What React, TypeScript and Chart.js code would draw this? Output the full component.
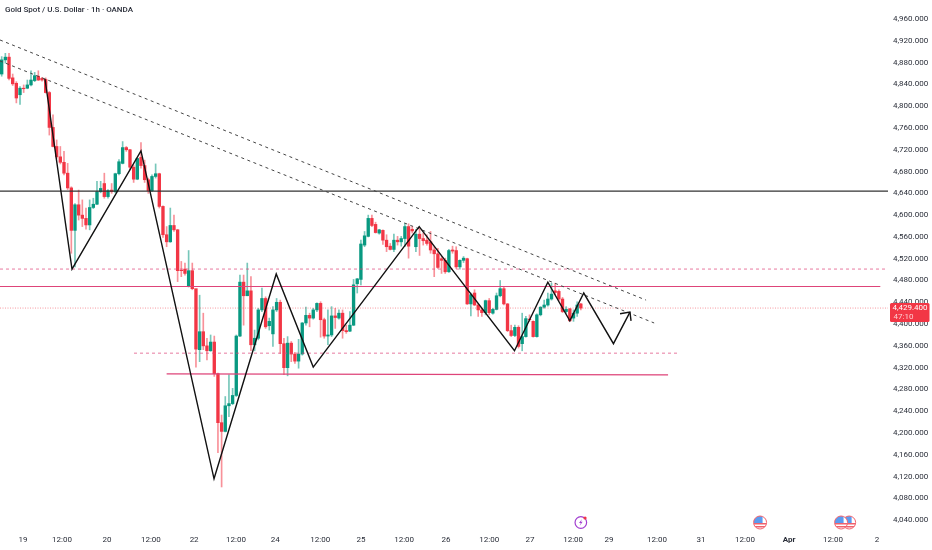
import React, { useEffect, useRef } from "react";
import { Chart, registerables } from "chart.js";

Chart.register(...registerables);

const opens = [
  4859, 4885, 4890, 4852, 4842, 4821, 4833, 4833, 4839, 4847,
  4855, 4851, 4849, 4825, 4761, 4726, 4707, 4697, 4677, 4650,
  4572, 4619, 4600, 4594, 4582, 4614, 4620, 4643, 4658, 4634,
  4646, 4643, 4676, 4695, 4724, 4720, 4688, 4666, 4706, 4691,
  4665, 4645, 4671, 4676, 4616, 4564, 4551, 4581, 4573, 4499,
  4501, 4469, 4498, 4465, 4353, 4386, 4360, 4351, 4367, 4309,
  4219, 4203, 4250, 4254, 4269, 4378, 4477, 4452, 4461, 4362,
  4374, 4426, 4447, 4397, 4382, 4426, 4440, 4364, 4320, 4365,
  4345, 4332, 4345, 4402, 4416, 4411, 4426, 4438, 4408, 4378,
  4380, 4415, 4411, 4420, 4388, 4387, 4398, 4474, 4482, 4545,
  4561, 4594, 4583, 4567, 4572, 4554, 4543, 4537, 4554, 4551,
  4557, 4579, 4574, 4542, 4565, 4557, 4554, 4551, 4536, 4529,
  4520, 4517, 4496, 4536, 4535, 4505, 4517, 4520, 4437, 4457,
  4435, 4426, 4421, 4443, 4420, 4427, 4452, 4465, 4437, 4388,
  4379, 4394, 4364, 4377, 4409, 4405, 4377, 4417, 4431, 4435,
  4446, 4461, 4460, 4446, 4423, 4428, 4411, 4420, 4437,
];
const closes = [
  4885, 4890, 4851, 4841, 4815, 4833, 4832, 4839, 4848, 4856,
  4848, 4848, 4825, 4761, 4726, 4707, 4697, 4677, 4650, 4572,
  4619, 4600, 4594, 4582, 4614, 4620, 4643, 4649, 4634, 4645,
  4643, 4676, 4698, 4724, 4720, 4688, 4666, 4704, 4691, 4665,
  4645, 4671, 4676, 4616, 4564, 4551, 4581, 4573, 4498, 4498,
  4493, 4498, 4465, 4354, 4386, 4360, 4351, 4367, 4309, 4219,
  4203, 4250, 4254, 4269, 4378, 4477, 4452, 4461, 4362, 4374,
  4426, 4447, 4395, 4405, 4426, 4440, 4364, 4320, 4365, 4345,
  4332, 4345, 4402, 4416, 4411, 4426, 4438, 4408, 4378, 4380,
  4415, 4412, 4420, 4388, 4386, 4398, 4472, 4483, 4547, 4562,
  4594, 4581, 4568, 4573, 4554, 4542, 4537, 4554, 4551, 4557,
  4579, 4543, 4571, 4565, 4557, 4553, 4548, 4536, 4529, 4504,
  4517, 4496, 4535, 4534, 4505, 4517, 4521, 4437, 4454, 4435,
  4426, 4421, 4443, 4421, 4427, 4452, 4465, 4437, 4388, 4379,
  4394, 4359, 4377, 4410, 4408, 4377, 4417, 4431, 4435, 4446,
  4455, 4458, 4446, 4423, 4427, 4406, 4420, 4435, 4429.4,
];
const highs = [
  4891, 4897, 4897, 4859, 4845, 4836, 4839, 4848, 4865, 4862,
  4865, 4853, 4852, 4827, 4784, 4738, 4726, 4717, 4695, 4652,
  4621, 4646, 4628, 4613, 4628, 4631, 4662, 4662, 4677, 4647,
  4658, 4677, 4702, 4735, 4726, 4721, 4692, 4705, 4733, 4701,
  4668, 4674, 4694, 4677, 4617, 4579, 4613, 4600, 4574, 4515,
  4512, 4535, 4512, 4464, 4453, 4420, 4374, 4380, 4378, 4310,
  4233, 4267, 4307, 4282, 4380, 4490, 4490, 4512, 4487, 4389,
  4429, 4466, 4450, 4411, 4432, 4447, 4444, 4374, 4377, 4368,
  4348, 4372, 4403, 4431, 4420, 4429, 4439, 4441, 4411, 4426,
  4432, 4429, 4426, 4426, 4398, 4423, 4482, 4484, 4554, 4570,
  4600, 4600, 4587, 4574, 4573, 4564, 4548, 4565, 4561, 4561,
  4585, 4584, 4579, 4574, 4576, 4567, 4564, 4570, 4542, 4539,
  4524, 4521, 4537, 4543, 4542, 4518, 4524, 4521, 4457, 4463,
  4438, 4429, 4444, 4447, 4429, 4457, 4480, 4468, 4438, 4398,
  4398, 4397, 4420, 4414, 4417, 4406, 4419, 4432, 4444, 4457,
  4475, 4475, 4463, 4449, 4432, 4429, 4426, 4441, 4438,
];
const lows = [
  4855, 4879, 4848, 4838, 4806, 4803, 4825, 4832, 4837, 4845,
  4847, 4846, 4824, 4747, 4725, 4704, 4694, 4674, 4647, 4530,
  4505, 4591, 4579, 4574, 4573, 4612, 4619, 4641, 4631, 4631,
  4640, 4641, 4674, 4694, 4717, 4683, 4660, 4665, 4686, 4660,
  4640, 4643, 4668, 4613, 4559, 4542, 4550, 4570, 4478, 4487,
  4490, 4468, 4463, 4321, 4331, 4353, 4334, 4350, 4304, 4164,
  4101, 4202, 4230, 4252, 4267, 4377, 4398, 4452, 4351, 4351,
  4371, 4423, 4392, 4389, 4359, 4423, 4346, 4307, 4305, 4331,
  4328, 4319, 4343, 4398, 4395, 4409, 4423, 4376, 4374, 4362,
  4377, 4392, 4409, 4374, 4383, 4386, 4397, 4457, 4472, 4542,
  4560, 4579, 4567, 4565, 4546, 4533, 4536, 4533, 4545, 4543,
  4542, 4521, 4567, 4533, 4526, 4545, 4545, 4530, 4487, 4502,
  4493, 4493, 4495, 4530, 4502, 4501, 4513, 4436, 4415, 4434,
  4414, 4414, 4417, 4417, 4418, 4426, 4450, 4435, 4386, 4377,
  4377, 4356, 4351, 4376, 4405, 4376, 4376, 4415, 4429, 4433,
  4444, 4454, 4443, 4421, 4420, 4405, 4405, 4414, 4426,
];

const xTickIndex = [5.8, 16.45, 28.7, 40.7, 52.5, 63.9, 74.6, 86.9, 98, 109.8, 121.2, 133, 144.1, 155.9, 165.7, 178.8, 190.8, 202.8, 214.8, 226.8, 238.8];
const xTickLabels = ["19", "12:00", "20", "12:00", "22", "12:00", "24", "12:00", "25", "12:00", "26", "12:00", "27", "12:00", "29", "12:00", "31", "12:00", "Apr", "12:00", "2"];
const priceTicks = [4960, 4920, 4880, 4840, 4800, 4760, 4720, 4680, 4640, 4600, 4560, 4520, 4480, 4440, 4400, 4360, 4320, 4280, 4240, 4200, 4160, 4120, 4080, 4040];

const zigzagX = [11.81, 19.18, 38.0, 57.93, 74.9, 85.0, 113.9, 139.9, 149.0, 155.0, 158.8, 166.9, 171.4];
const zigzagY = [4850, 4501, 4718, 4116, 4492, 4321, 4579, 4351, 4477, 4406, 4457, 4364, 4422];
const arrowX = [168.7, 171.4, 171.7];
const arrowY = [4419, 4422, 4406];

const upperTrendX = [-0.46, 175.8];
const upperTrendY = [4921.5, 4444];
const lowerTrendX = [-0.46, 178];
const lowerTrendY = [4883, 4402];

const resistancePrice = 4644;
const upperDashedPrice = 4501;
const upperPinkPrice = 4469;
const lastPrice = 4429.4;
const lowerDashedPrice = 4346.6;
const lowerPinkStart = 4308.6;
const lowerPinkEnd = 4306.7;

const flagEvents = [206.9, 229, 231.2];
const boltEvent = 158;

const UP = "#089981";
const DOWN = "#F23645";
const PINK = "#DE4479";
const PINK_SOFT = "rgba(222,68,121,0.8)";
const X_MIN = -0.46;
const X_MAX = 241.8;

const pts = (xs: number[], ys: number[]) => xs.map((x, i) => ({ x, y: ys[i] }));

const lineDs = (data: { x: number; y: number }[], color: string, width: number, dash: number[] = []) => ({
  type: "line" as const,
  data,
  borderColor: color,
  borderWidth: width,
  borderDash: dash,
  pointRadius: 0,
  tension: 0,
  fill: false,
  order: 0,
  borderJoinStyle: "miter" as const,
  borderCapStyle: "butt" as const,
});

const drawFlag = (c: CanvasRenderingContext2D, x: number, y: number) => {
  const r = 6.5;
  c.save();
  c.beginPath();
  c.arc(x, y, r, 0, Math.PI * 2);
  c.fillStyle = "#ffffff";
  c.fill();
  c.clip();
  c.fillStyle = "#F0616D";
  c.fillRect(x - r, y + 0.5, 2 * r, 1.5);
  c.fillRect(x - r, y + 3.5, 2 * r, 1.5);
  c.fillStyle = "#5B9CF0";
  c.fillRect(x - r, y - r, r + 2.5, r + 0.5);
  c.restore();
  c.beginPath();
  c.arc(x, y, r, 0, Math.PI * 2);
  c.strokeStyle = "#F0616D";
  c.lineWidth = 1;
  c.stroke();
};

const overlay = {
  id: "overlay",
  afterDatasetsDraw(chart: any) {
    const c: CanvasRenderingContext2D = chart.ctx;
    const xs = chart.scales.x;
    const ys = chart.scales.y;
    const lastY = ys.getPixelForValue(lastPrice);

    c.save();
    c.textBaseline = "middle";
    c.textAlign = "left";
    c.font = "500 8px Roboto";
    c.fillStyle = "#2A2E39";
    c.fillText("Gold Spot / U.S. Dollar · 1h · OANDA", 5, 10);

    // last price tag
    c.fillStyle = DOWN;
    c.beginPath();
    c.roundRect(890, lastY - 5, 39.5, 19, 1.5);
    c.fill();
    c.fillStyle = "#ffffff";
    c.font = "8px Roboto";
    c.textAlign = "center";
    c.fillText("4,429.400", 910, lastY);
    c.fillStyle = "rgba(255,255,255,0.75)";
    c.textAlign = "left";
    c.fillText("47:10", 893.5, lastY + 9);

    // events
    const evY = 522.5;
    const bx = xs.getPixelForValue(boltEvent);
    c.beginPath();
    c.arc(bx, evY, 5.8, 0, Math.PI * 2);
    c.strokeStyle = "#A23FD0";
    c.lineWidth = 1.2;
    c.stroke();
    c.beginPath();
    c.moveTo(bx + 1.2, evY - 3.5);
    c.lineTo(bx - 1.8, evY + 0.5);
    c.lineTo(bx, evY + 0.5);
    c.lineTo(bx - 1.2, evY + 3.5);
    c.lineTo(bx + 1.8, evY - 0.8);
    c.lineTo(bx, evY - 0.8);
    c.closePath();
    c.fillStyle = "#A23FD0";
    c.fill();
    c.beginPath();
    c.arc(bx + 4.2, evY - 4.5, 1.6, 0, Math.PI * 2);
    c.fillStyle = DOWN;
    c.fill();
    [...flagEvents].reverse().forEach((e) => drawFlag(c, xs.getPixelForValue(e), evY));
    c.restore();
  },
};

export default function App() {
  const ref = useRef<HTMLCanvasElement>(null);
  useEffect(() => {
    document.body.style.margin = "0";
    document.body.style.background = "#ffffff";
    const colors = closes.map((v, i) => (v >= opens[i] ? UP : DOWN));
    const wickColors = closes.map((v, i) => (v >= opens[i] ? "rgba(8,153,129,0.55)" : "rgba(242,54,69,0.55)"));
    const chart = new Chart(ref.current!, {
      type: "bar",
      data: {
        datasets: [
          lineDs(pts(zigzagX, zigzagY), "#111111", 1.4),
          lineDs(pts(arrowX, arrowY), "#111111", 1.4),
          lineDs(pts(upperTrendX, upperTrendY), "#444444", 1, [3, 3.5]),
          lineDs(pts(lowerTrendX, lowerTrendY), "#444444", 1, [3, 3.5]),
          lineDs(pts([X_MIN, X_MAX], [resistancePrice, resistancePrice]), "#333333", 1.2),
          lineDs(pts([X_MIN, X_MAX], [upperDashedPrice, upperDashedPrice]), PINK_SOFT, 0.9, [3, 3]),
          lineDs(pts([X_MIN, 239.7], [upperPinkPrice, upperPinkPrice]), PINK, 1.2),
          lineDs(pts([X_MIN, X_MAX], [lastPrice, lastPrice]), "rgba(242,54,69,0.5)", 1, [1, 1.5]),
          lineDs(pts([36.1, 185], [lowerDashedPrice, lowerDashedPrice]), PINK_SOFT, 0.9, [3, 3]),
          lineDs(pts([45, 181.8], [lowerPinkStart, lowerPinkEnd]), PINK, 1.3),
          {
            type: "bar" as const,
            data: closes.map((v, i) => ({ x: i, y: [opens[i], v] })),
            backgroundColor: colors,
            barThickness: 2.7,
            grouped: false,
            order: 1,
          },
          {
            type: "bar" as const,
            data: closes.map((_, i) => ({ x: i, y: [lows[i], highs[i]] })),
            backgroundColor: wickColors,
            barThickness: 1,
            grouped: false,
            order: 2,
          },
        ] as any,
      },
      options: {
        animation: false,
        responsive: false,
        layout: { padding: 0 },
        plugins: { legend: { display: false }, tooltip: { enabled: false } },
        scales: {
          x: {
            type: "linear",
            offset: false,
            min: X_MIN,
            max: X_MAX,
            grid: { display: false, drawTicks: false },
            border: { display: false },
            afterBuildTicks: (s: any) => {
              s.ticks = xTickIndex.map((value) => ({ value }));
            },
            afterFit: (s: any) => {
              s.height = 20;
              s.paddingLeft = 0;
              s.paddingRight = 0;
              s.paddingTop = 0;
              s.paddingBottom = 0;
            },
            ticks: {
              autoSkip: false,
              maxRotation: 0,
              minRotation: 0,
              padding: 5,
              color: "#2A2E39",
              font: (ctx: any) => ({
                family: "Roboto",
                size: 8,
                weight: xTickLabels[ctx.index] === "Apr" ? "bold" : "normal",
              }),
              callback: (_v: any, i: number) => xTickLabels[i],
            },
          },
          y: {
            type: "linear",
            position: "right",
            min: 4022,
            max: 4994.9,
            grid: { display: false, drawTicks: false },
            border: { display: false },
            afterBuildTicks: (s: any) => {
              s.ticks = priceTicks.map((value) => ({ value }));
            },
            afterFit: (s: any) => {
              s.width = 44;
              s.paddingLeft = 0;
              s.paddingRight = 0;
              s.paddingTop = 0;
              s.paddingBottom = 0;
            },
            ticks: {
              autoSkip: false,
              padding: 5,
              color: "#2A2E39",
              font: { family: "Roboto", size: 8 },
              callback: (v: any) => Number(v).toLocaleString("en-US", { minimumFractionDigits: 3, maximumFractionDigits: 3 }),
            },
          },
        },
      } as any,
      plugins: [overlay],
    });
    return () => chart.destroy();
  }, []);
  return <canvas ref={ref} width={932} height={550} style={{ display: "block" }} />;
}
